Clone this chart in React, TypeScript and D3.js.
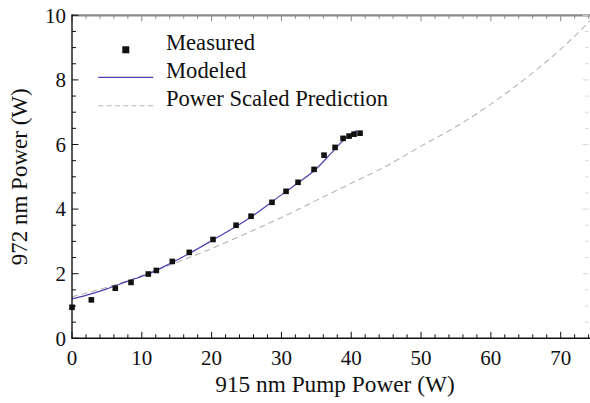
import React from "react";
import * as d3 from "d3";

const measuredX = [0, 2.77, 6.2, 8.45, 10.93, 12.08, 14.37, 16.8, 20.2, 23.5, 25.65, 28.65, 30.66, 32.38, 34.67, 36.1, 37.68, 38.83, 39.69, 40.4, 41.26];
const measuredY = [0.96, 1.19, 1.55, 1.73, 1.99, 2.1, 2.38, 2.66, 3.06, 3.5, 3.78, 4.21, 4.55, 4.83, 5.23, 5.67, 5.91, 6.19, 6.26, 6.32, 6.35];

const modeledX = [0, 2, 5, 8, 11, 14, 17, 20, 25, 30, 32.5, 35, 37, 38.5, 39.5, 40.8];
const modeledY = [1.22, 1.33, 1.53, 1.77, 2.0, 2.31, 2.65, 3.02, 3.66, 4.44, 4.83, 5.25, 5.7, 6.05, 6.25, 6.43];

const predX = [0, 5, 10, 15, 20, 25, 30, 35, 40, 45, 50, 55, 60, 65, 70, 74.3];
const predY = [1.29, 1.58, 1.94, 2.35, 2.78, 3.25, 3.74, 4.27, 4.8, 5.33, 5.95, 6.55, 7.25, 8.05, 8.95, 9.85];

const xTicks = [0, 10, 20, 30, 40, 50, 60, 70];
const yTicks = [0, 2, 4, 6, 8, 10];
const legendLabels = ["Measured", "Modeled", "Power Scaled Prediction"];
const xTitle = "915 nm Pump Power (W)";
const yTitle = "972 nm Power (W)";

const W = 590;
const H = 403;
const L = 72;
const R = 588.6;
const T = 15.3;
const B = 338.3;

const FONT = "'Liberation Serif'";

function Txt(props: any) {
  const { children, ...rest } = props;
  return (
    <text {...rest} fill="#111" style={{ fontFamily: FONT }}>
      {children}
    </text>
  );
}

export default function App() {
  const x = d3.scaleLinear().domain([0, 74]).range([L, R]);
  const y = d3.scaleLinear().domain([0, 10]).range([B, T]);

  const line = d3
    .line<[number, number]>()
    .x((d) => x(d[0]))
    .y((d) => y(d[1]))
    .curve(d3.curveMonotoneX);

  const modeled = modeledX.map((v, i) => [v, modeledY[i]] as [number, number]);
  const pred = predX.map((v, i) => [v, predY[i]] as [number, number]);

  const xMinor = d3.range(0, 74.01, 2);
  const yMinor = d3.range(0, 10.01, 0.5);

  return (
    <svg width={W} height={H} style={{ position: "absolute", left: 0, top: 0 }}>
      <style>{"text { font-family: 'Liberation Serif', 'Times New Roman', Times, serif; }"}</style>
      <rect x={0} y={0} width={W} height={H} fill="#fff" />
      {/* prediction dashed */}
      <path d={line(pred) || ""} fill="none" stroke="#b4b4b4" strokeWidth={1.1} strokeDasharray="6,4" />
      {/* modeled */}
      <path d={line(modeled) || ""} fill="none" stroke="#4a42b0" strokeWidth={1.2} />
      {/* measured */}
      {measuredX.map((v, i) => (
        <rect key={i} x={x(v) - 2.8} y={y(measuredY[i]) - 2.8} width={5.6} height={5.6} fill="#111" />
      ))}

      {/* top axis (grey) */}
      <line x1={L} x2={R + 2} y1={T} y2={T} stroke="#8a8a8a" strokeWidth={2.2} />
      {xMinor.map((v, i) => {
        const major = Math.abs(v % 10) < 1e-6;
        return (
          <line key={"tt" + i} x1={x(v)} x2={x(v)} y1={T} y2={T + (major ? 6 : 3.5)} stroke="#8a8a8a" strokeWidth={1} />
        );
      })}
      {/* right axis faint ticks */}
      {yMinor.map((v, i) => {
        const major = Math.abs(v % 2) < 1e-6;
        return (
          <line key={"rt" + i} x1={R} x2={R - (major ? 6 : 3.5)} y1={y(v)} y2={y(v)} stroke="#d8d8d8" strokeWidth={1} />
        );
      })}

      {/* bottom axis */}
      <line x1={L} x2={R + 2} y1={B} y2={B} stroke="#111" strokeWidth={1.4} />
      {xMinor.map((v, i) => {
        const major = Math.abs(v % 10) < 1e-6;
        return (
          <line key={"bt" + i} x1={x(v)} x2={x(v)} y1={B} y2={B - (major ? 6.5 : 4)} stroke="#111" strokeWidth={1} />
        );
      })}
      {xTicks.map((v) => (
        <Txt key={"xl" + v} x={x(v)} y={365} textAnchor="middle" fontSize={21}>
          {v}
        </Txt>
      ))}

      {/* left axis */}
      <line x1={L} x2={L} y1={T - 1} y2={B + 0.7} stroke="#111" strokeWidth={1.4} />
      {yMinor.map((v, i) => {
        const major = Math.abs(v % 2) < 1e-6;
        return (
          <line key={"lt" + i} x1={L} x2={L + (major ? 6.5 : 4)} y1={y(v)} y2={y(v)} stroke="#111" strokeWidth={1} />
        );
      })}
      {yTicks.map((v) => (
        <Txt key={"yl" + v} x={66} y={y(v)} dy="0.35em" textAnchor="end" fontSize={21}>
          {v}
        </Txt>
      ))}

      {/* titles */}
      <Txt x={335} y={392} textAnchor="middle" fontSize={23.3}>
        {xTitle}
      </Txt>
      <Txt transform={`translate(26.5, ${(T + B) / 2}) rotate(-90)`} textAnchor="middle" fontSize={23}>
        {yTitle}
      </Txt>

      {/* legend */}
      <rect x={122.3} y={46.3} width={7} height={7} fill="#111" />
      <line x1={98.3} x2={153.3} y1={77.3} y2={77.3} stroke="#4a42b0" strokeWidth={1.2} />
      <line x1={98.3} x2={153.3} y1={105.7} y2={105.7} stroke="#b4b4b4" strokeWidth={1.1} strokeDasharray="5,3.3" />
      <Txt x={166} y={49.7} fontSize={22.6}>{legendLabels[0]}</Txt>
      <Txt x={166} y={78} fontSize={22.6}>{legendLabels[1]}</Txt>
      <Txt x={166} y={106.3} fontSize={22.6}>{legendLabels[2]}</Txt>
    </svg>
  );
}
